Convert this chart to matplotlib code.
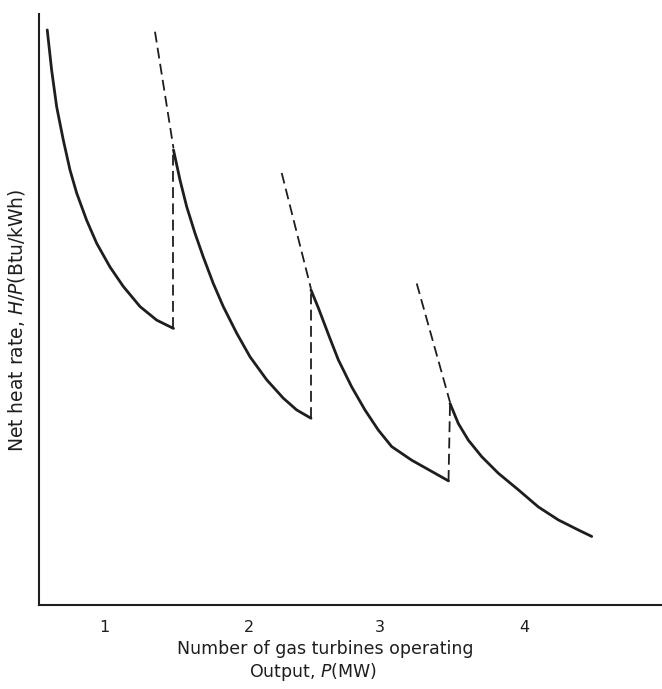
import matplotlib
matplotlib.use("Agg")
import matplotlib.pyplot as plt

# Output P (MW) and relative net heat rate for each turbine-count segment
p1 = [1.64, 2.28, 3.01, 3.97, 4.95, 5.92, 7.37, 8.83, 10.76, 12.70, 15.13, 17.56, 20.0]
h1 = [97.3, 90.5, 84.3, 78.7, 73.6, 69.7, 65.1, 61.2, 57.2, 53.9, 50.5, 48.2, 46.8]

p2 = [20.0, 20.95, 21.92, 23.13, 24.33, 25.79, 27.24, 29.19, 31.13, 33.56, 35.97, 37.92, 40.0]
h2 = [77.0, 71.9, 67.4, 62.9, 58.9, 54.4, 50.5, 46.0, 42.0, 38.1, 35.0, 33.0, 31.6]

p3 = [40.0, 41.06, 42.66, 43.97, 45.92, 47.85, 49.79, 51.74, 54.65, 57.56, 60.0]
h3 = [53.3, 50.3, 45.4, 41.5, 36.9, 33.0, 29.6, 26.8, 24.5, 22.6, 21.0]

p4 = [60.22, 61.43, 62.88, 64.83, 67.24, 70.15, 73.06, 75.97, 78.88, 80.83]
h4 = [34.1, 30.7, 27.9, 25.1, 22.3, 19.5, 16.6, 14.4, 12.7, 11.6]

# dashed upward extensions of each new segment
ext_p = [[17.31, 20.0], [35.74, 40.0], [55.38, 60.22]]
ext_h = [[97.0, 77.3], [73.1, 53.5], [54.4, 34.3]]

# vertical dashed transitions
jump_p = [[20.0, 20.0], [40.0, 40.0], [60.0, 60.22]]
jump_h = [[46.8, 77.0], [31.6, 53.3], [21.0, 34.1]]

tick_pos = [10, 31, 50, 71]
tick_labels = ["1", "2", "3", "4"]

ink = "#1e1e1e"
fig = plt.figure(figsize=(6.62, 6.89), dpi=100)
ax = fig.add_axes([0.0589, 0.1219, 0.9411, 0.8578])

for p, h in [(p1, h1), (p2, h2), (p3, h3), (p4, h4)]:
    ax.plot(p, h, color=ink, lw=2.0, solid_capstyle="round", solid_joinstyle="round")
for p, h in zip(ext_p, ext_h):
    ax.plot(p, h, color=ink, lw=1.3, dashes=(6, 3))
for p, h in zip(jump_p, jump_h):
    ax.plot(p, h, color=ink, lw=1.3, dashes=(6, 3))

ax.set_xlim(0.44, 91.05)
ax.set_ylim(0, 100)
for s in ["top", "right"]:
    ax.spines[s].set_visible(False)
for s in ["left", "bottom"]:
    ax.spines[s].set_linewidth(1.5)
    ax.spines[s].set_color(ink)

ax.set_yticks([])
ax.set_xticks(tick_pos)
ax.set_xticklabels(tick_labels, fontsize=11.5, color=ink)
ax.tick_params(axis="x", length=0, pad=11)

ax.set_xlabel("Number of gas turbines operating", fontsize=12.5, color=ink)
ax.xaxis.set_label_coords(0.459, -0.060)
ax.text(0.44, -0.113, "Output, $P$(MW)", transform=ax.transAxes,
        ha="center", va="center", fontsize=12.5, color=ink)
ax.set_ylabel("Net heat rate, $H/P$(Btu/kWh)", fontsize=13.5, color=ink)
ax.yaxis.set_label_coords(-0.019, 0.482)

fig.savefig("out.png", dpi=100)
